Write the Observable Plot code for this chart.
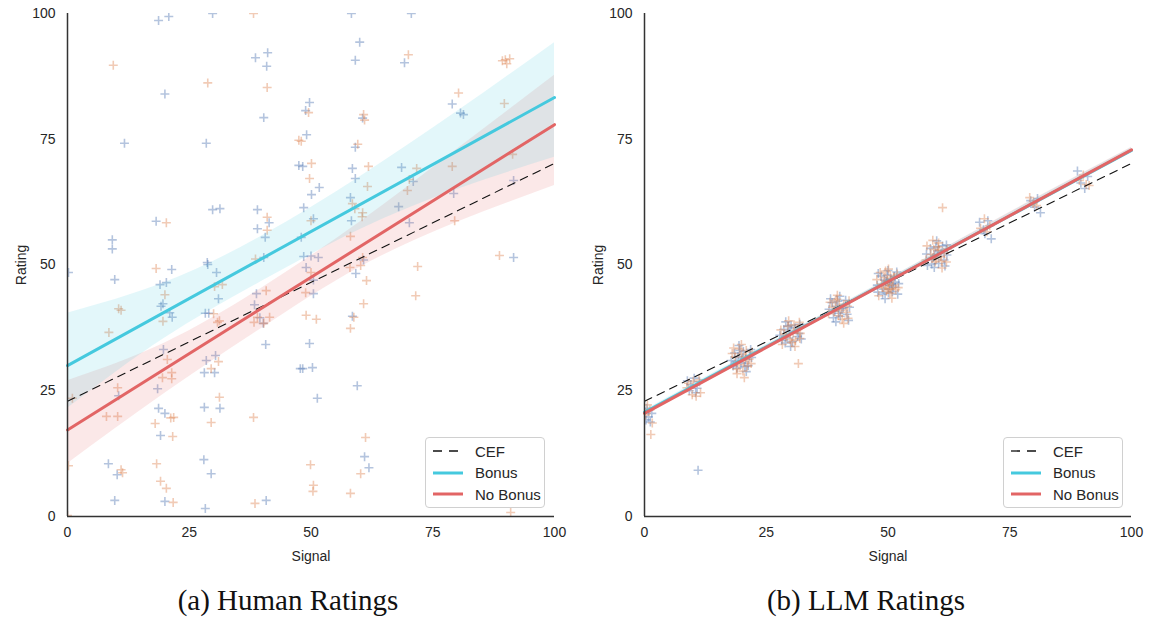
<!DOCTYPE html>
<html><head><meta charset="utf-8">
<script src="https://cdn.jsdelivr.net/npm/d3@7"></script>
<script src="https://cdn.jsdelivr.net/npm/@observablehq/plot@0.6"></script>
<style>
body{margin:0;background:#fff;font-family:"Liberation Sans",Arial,sans-serif;}
#wrap{position:relative;width:1151px;height:623px;overflow:hidden;}
.panel{position:absolute;top:0;}
.legend{position:absolute;width:120px;height:71px;border:1px solid #d0d0d0;border-radius:4px;background:rgba(255,255,255,0.85);box-sizing:border-box;font-size:15px;color:#262626;}
.legend .row{position:absolute;left:7px;height:20px;display:flex;align-items:center;}
.legend svg{margin-right:12px;}
.caption{position:absolute;font-family:"Liberation Serif","DejaVu Serif",serif;font-size:29px;color:#111;transform:translateX(-50%);white-space:nowrap;}
</style></head>
<body><div id="wrap"></div>
<script>
// ---------- data ----------
const tickValues = [0, 25, 50, 75, 100];
const groupNames = ["CEF", "Bonus", "No Bonus"];
const captions = ["(a) Human Ratings", "(b) LLM Ratings"];

// Human ratings: [signal, rating]
const humanBonus = [[18.7,98.6],[20.8,99.4],[29.8,100],[20,84],[38.6,91.2],[41.1,92.2],[40.9,89.5],[40.3,79.3],[11.7,74.2],[28.5,74.2],[47.5,69.8],[29.8,61],[31.3,61.2],[39,61],[18.2,58.7],[41.4,58.4],[39,57.2],[40.6,55.5],[9.2,55],[9.2,53.2],[28.7,50.5],[40.3,51.5],
[58.3,100],[70.6,100],[60,94.3],[59.1,90.7],[69.2,90.2],[79,82],[80.7,80.2],[81.3,79.9],[49.7,82.3],[48.9,80.7],[60.6,79.2],[49.1,75.9],[59.1,73.4],[48.3,69.6],[50.1,64],[51.7,65.4],[58.5,69.2],[59.1,67.2],[48.5,61.4],[58.1,63.4],[58.3,58.8],[50.5,59.2],[48,55.5],[68.6,69.4],[71,66.6],[68,61.6],[91.6,66.8],[79.3,64.2],[70.2,58.4],[91.6,51.5],[48.5,51.7],[50,51.8],[51.5,51.5],
[0.2,48.5],[9.7,47.1],[21.4,49.1],[28.8,50.1],[30.6,48.5],[19,46.1],[20.3,46.5],[19.6,42.3],[19.2,41.8],[21,40.5],[21.5,39.6],[31,43.3],[28.3,40.4],[29,40.4],[38.8,44.3],[38.4,42.1],[39.5,39.5],[40.2,38.4],[40.7,34.2],[19.7,33.2],[18.5,25.4],[30.4,32],[28.5,31],[28.1,28.6],[30.2,28.6],[10.5,24],[18.7,21.5],[20,20.5],[19.1,16.1],[28.1,21.7],[31.3,21.5],[8.4,10.5],[10.2,8.3],[28,11.3],[29.5,8.5],[9.7,3.2],[20,3],[28.3,1.6],[40.8,3.2],
[58.5,39.8],[59.2,48.3],[49,49.5],[50.5,47],[50.5,44.3],[49.7,34.4],[48.3,29.4],[50.3,29.6],[59.5,26],[51.3,23.5],[61,11.9],[61.9,9.7],[47.8,29.4],[60.8,51]];
const humanNoBonus = [[9.4,89.7],[28.8,86.2],[41,85.3],[47.5,74.8],[20.3,58.4],[41,59.5],[41,56.9],[38.6,51.2],[38.2,100],
[70,91.8],[89.9,90.8],[89.3,90.6],[90.8,91],[90.2,90],[80.3,84.2],[89.7,82.1],[49.5,80.3],[60.8,79.9],[61,78.8],[48,74.6],[59.6,74],[50.1,70.2],[49.7,67.2],[61.8,69.6],[61.6,65.6],[58.5,62.2],[59,61.2],[60.6,60.4],[60.5,59.6],[50,58.8],[58.1,55.7],[71.7,69.2],[70.2,67],[69.8,64.8],[79,69.6],[91.4,72],[79.5,58.8],[88.7,51.9],[71.9,49.7],[60.6,51.5],
[18.2,49.3],[20,44.1],[10.5,41.3],[11,41],[8.5,36.6],[19.6,38.8],[30.2,45.7],[31.8,46.1],[30,40.3],[30.8,38.6],[31.2,38.9],[40.8,44.9],[39,39.6],[40.3,38.4],[38.3,38.6],[41.5,39.6],[20.5,31.2],[21.4,28.6],[21.4,27.4],[19.5,27.6],[31,30.8],[29.5,29.4],[10.3,25.6],[1,23.5],[8,19.9],[10.3,19.9],[21.2,19.6],[21.8,19.7],[18,18.5],[21.6,15.9],[29.5,18.7],[31.2,23.7],[38.2,19.7],[0.2,10.1],[11,9.3],[11.3,8.7],[18.3,10.5],[19.1,7],[20.3,5.6],[21.7,2.8],[38.5,2.6],[0,0.2],
[71.5,43.9],[49,40],[51.1,39.2],[58.8,39.6],[58.1,37.4],[60.8,42.3],[61.4,46.9],[60.2,49.9],[48.9,44.5],[61.2,15.7],[60.2,8.5],[49.9,10.3],[50.5,6.2],[50.4,5],[58.1,4.6],[91,0.8],[58,49.5],[50,48.5]];

// LLM ratings: [signal, rating]
const llmBonus = [[0.3,19.2],[0.8,19.8],[1.2,18.8],[0.5,21.5],[1.5,20.5],
[8.8,27],[9.5,26.2],[10.2,27.5],[10.8,25.5],[11.3,26.8],[9.2,25],[11,9.2],[10.5,24.6],
[18.5,32.5],[19.2,31.8],[19.8,30.5],[20.3,32.8],[20.8,31.2],[21.3,30],[18.8,30.8],[19.6,33],[20.6,29.8],[21.6,32],[19,29.5],[20.1,31.5],
[17.8,31.0],[22.0,31.6],[19.4,34.0],[20.9,28.8],[18.2,29.9],[21.8,33.2],
[28.6,37.2],[29.3,35.5],[29.8,36.8],[30.4,34.8],[30.9,37.5],[31.4,35.8],[28.9,34.5],[30.1,38],[31.7,36.4],[29.5,37.8],
[27.8,36.0],[32.2,35.3],[30.0,33.8],[29.0,38.7],[31.9,38.2],[28.2,35.0],
[38.5,42.5],[39.1,40.8],[39.7,42.8],[40.2,39.8],[40.8,41.5],[41.3,43],[38.8,39.5],[40.5,41.3],[41.6,40.2],[39.4,41.8],[39.9,40.4],
[37.9,41.2],[42.1,41.6],[40.1,43.8],[39.3,38.7],[41.9,39.0],[38.2,43.3],
[48.6,47.8],[49.1,45.2],[49.6,46.7],[50.1,44.5],[50.6,47.2],[51.1,45.6],[51.5,46.6],[48.9,44.2],[49.8,48],[50.3,45.9],[50.9,44.7],[49.3,47],[51.3,47.7],[50.7,46.2],
[47.8,46.0],[52.2,46.3],[50.0,48.9],[49.4,43.3],[52.0,44.2],[48.0,48.3],[47.9,44.6],[51.8,48.6],
[58.7,53.3],[59.3,51.5],[59.8,53.6],[60.4,50.3],[60.9,52.4],[61.5,51],[59,50.2],[60.2,52.8],[61.2,53.8],[59.6,51.8],
[57.9,52.2],[62.1,52.0],[60.0,54.8],[59.5,49.5],[62.0,54.0],[58.1,49.9],[61.7,49.8],
[68.8,58.5],[69.6,57],[70.5,58.8],[71.2,55.2],[69.9,56.2],
[79.3,62.8],[80.1,61.5],[81.3,60.4],[80.7,63.2],
[88.9,68.7],[89.6,66.3],[90.4,65.2],[91,67.6]];
const llmNoBonus = [[0.6,22.2],[1.1,21.2],[1.6,18.6],[1.3,16.3],[0.2,20.2],
[9,26.5],[9.8,24.2],[10.6,23.9],[11.5,24.6],[10,26.9],[11.2,27.2],[8.7,25.6],
[18.6,31.7],[19.4,30.2],[19.9,32.3],[20.4,30.9],[20.9,33],[21.5,31.3],[18.9,29.3],[20.2,28.9],[20.5,27.6],[21.1,29.9],[19.5,33.3],[20.7,31.8],
[18.0,32.4],[21.9,30.4],[19.9,34.2],[19.0,28.4],[22.1,32.7],[18.3,33.5],
[28.7,36.2],[29.4,37.8],[29.9,35.2],[30.5,36.5],[31,35],[31.5,37.2],[29.1,35.7],[30.2,34.6],[31.6,30.4],[30.7,38.1],[31.9,35.4],
[28.0,37.1],[32.0,36.4],[29.6,38.9],[30.9,33.8],[28.3,34.2],[31.8,38.6],
[38.6,41.6],[39.2,42.9],[39.8,39.9],[40.3,41],[40.9,42.2],[41.4,40.6],[38.9,40.8],[40.6,39.2],[39.5,43.2],[41.7,41.8],[40,42],
[37.8,40.3],[42.0,42.9],[39.6,44.0],[40.9,38.4],[38.1,42.6],[41.8,39.4],
[48.7,46.2],[49.2,47.5],[49.7,44.8],[50.2,46.4],[50.7,45.3],[51.2,47.6],[48.8,45.5],[49.9,46.9],[50.4,44.4],[51,46],[51.6,45.1],[49.4,45.9],[50.5,47.9],[50,45.2],
[47.7,47.1],[52.1,45.5],[49.5,48.8],[50.8,43.4],[48.1,43.9],[51.9,48.2],[50.1,49.2],[48.4,48.5],
[58.8,52.1],[59.4,53.1],[59.9,51.2],[60.5,52.9],[61,50.8],[61.6,52.3],[59.1,51.4],[60.3,53.6],[61.2,61.4],[59.7,50.6],[60.8,51.7],
[57.8,51.0],[62.2,53.2],[59.2,54.9],[61.1,49.4],[58.0,53.8],[62.0,50.6],[60.4,54.4],
[69,57.3],[69.8,59.2],[70.3,56.6],[70.9,57.8],
[79.1,63.4],[79.8,62.2],[80.5,61.8],
[89.3,66.8],[90.1,67.9],[90.7,66],[91.3,65.8]];

// fitted lines (at signal 0 and 100)
const fitSignal = [0, 100];
const cefFit = [22.9, 70.2];
const humanBonusFit = [30.0, 83.3];
const humanNoBonusFit = [17.2, 77.9];
const llmBonusFit = [20.7, 72.8];
const llmNoBonusFit = [20.5, 72.9];

// confidence bands
const bandSignal = [0, 20, 40, 60, 80, 100];
const humanBonusLo = [21.5, 35.5, 46.8, 57.0, 65.0, 71.4];
const humanBonusHi = [40.4, 46.5, 55.8, 67.5, 80.5, 94.2];
const humanNoBonusLo = [10.5, 24.5, 37.5, 49.5, 58.5, 65.8];
const humanNoBonusHi = [27.0, 34.5, 45.5, 58.5, 73.0, 87.7];
const llmBonusLo = [20.3, 31.0, 41.6, 52.0, 62.3, 72.3];
const llmBonusHi = [21.1, 31.6, 42.0, 52.5, 63.0, 73.3];
const llmNoBonusLo = [20.1, 30.8, 41.5, 52.0, 62.4, 72.4];
const llmNoBonusHi = [20.9, 31.4, 41.9, 52.5, 63.1, 73.4];

// ---------- styling ----------
const C = {blue:"#4c72b0", orange:"#dd8452", cyan:"#45c9de", red:"#e26565", axis:"#333", text:"#262626"};

function toPts(a){ return a.map(([x,y]) => ({x, y})); }
function toLine(ys){ return fitSignal.map((x,i) => ({x, y: ys[i]})); }
function toBand(lo, hi){ return bandSignal.map((x,i) => ({x, lo: lo[i], hi: hi[i]})); }

function panel(cfg){
  return Plot.plot({
    width: cfg.width, height: 578,
    marginLeft: cfg.ml, marginRight: cfg.mr, marginTop: 13, marginBottom: 62,
    x: {domain: [0, 100]}, y: {domain: [0, 100]},
    style: {fontFamily: '"Liberation Sans", Arial, sans-serif', fontSize: "14px", color: C.text, background: "transparent"},
    marks: [
      Plot.dot(toPts(cfg.bonus), {x:"x", y:"y", symbol:"plus", r:3, stroke:C.blue, strokeWidth:1.6, strokeOpacity:0.42, clip:true}),
      Plot.dot(toPts(cfg.noBonus), {x:"x", y:"y", symbol:"plus", r:3, stroke:C.orange, strokeWidth:1.6, strokeOpacity:0.42, clip:true}),
      Plot.areaY(toBand(cfg.nbLo, cfg.nbHi), {x:"x", y1:"lo", y2:"hi", fill:C.red, fillOpacity:0.15, curve:"natural"}),
      Plot.areaY(toBand(cfg.bLo, cfg.bHi), {x:"x", y1:"lo", y2:"hi", fill:C.cyan, fillOpacity:0.15, curve:"natural"}),
      Plot.line(toLine(cefFit), {x:"x", y:"y", stroke:"#111", strokeWidth:1.1, strokeDasharray:"8,6"}),
      Plot.line(toLine(cfg.bFit), {x:"x", y:"y", stroke:C.cyan, strokeWidth:3}),
      Plot.line(toLine(cfg.nbFit), {x:"x", y:"y", stroke:C.red, strokeWidth:3}),
      Plot.ruleX([0], {stroke:C.axis, strokeWidth:1.5}),
      Plot.ruleY([0], {stroke:C.axis, strokeWidth:1.5}),
      Plot.axisX({ticks: tickValues, tickSize:0, tickPadding:11, fontSize:14, label:"Signal", labelAnchor:"center", labelOffset:44, labelArrow:"none"}),
      Plot.axisY({ticks: tickValues, tickSize:0, tickPadding:12, fontSize:14, label:"Rating", labelAnchor:"center", labelOffset:51, labelArrow:"none"})
    ]
  });
}

const wrap = document.getElementById("wrap");
const panels = [
  {left:0, width:575, ml:67, mr:21, bonus:humanBonus, noBonus:humanNoBonus, bFit:humanBonusFit, nbFit:humanNoBonusFit, bLo:humanBonusLo, bHi:humanBonusHi, nbLo:humanNoBonusLo, nbHi:humanNoBonusHi, legendLeft:425, capX:288},
  {left:575, width:576, ml:69, mr:20, bonus:llmBonus, noBonus:llmNoBonus, bFit:llmBonusFit, nbFit:llmNoBonusFit, bLo:llmBonusLo, bHi:llmBonusHi, nbLo:llmNoBonusLo, nbHi:llmNoBonusHi, legendLeft:1003, capX:866}
];
panels.forEach((p, i) => {
  const div = document.createElement("div");
  div.className = "panel"; div.style.left = p.left + "px";
  div.appendChild(panel(p));
  wrap.appendChild(div);

  const lg = document.createElement("div");
  lg.className = "legend";
  lg.style.left = p.legendLeft + "px"; lg.style.top = "437px";
  const styles = [
    {stroke:"#111", w:1.3, dash:"9,7"},
    {stroke:C.cyan, w:3, dash:null},
    {stroke:C.red, w:3, dash:null}
  ];
  groupNames.forEach((name, j) => {
    const row = document.createElement("div");
    row.className = "row"; row.style.top = (3 + j*21.5) + "px";
    const s = styles[j];
    row.innerHTML = `<svg width="30" height="10"><line x1="0" x2="30" y1="5" y2="5" stroke="${s.stroke}" stroke-width="${s.w}" ${s.dash ? `stroke-dasharray="${s.dash}"` : ""}/></svg><span>${name}</span>`;
    lg.appendChild(row);
  });
  wrap.appendChild(lg);

  const cap = document.createElement("div");
  cap.className = "caption"; cap.textContent = captions[i];
  cap.style.left = p.capX + "px"; cap.style.top = "584px";
  wrap.appendChild(cap);
});
</script>
</body></html>
